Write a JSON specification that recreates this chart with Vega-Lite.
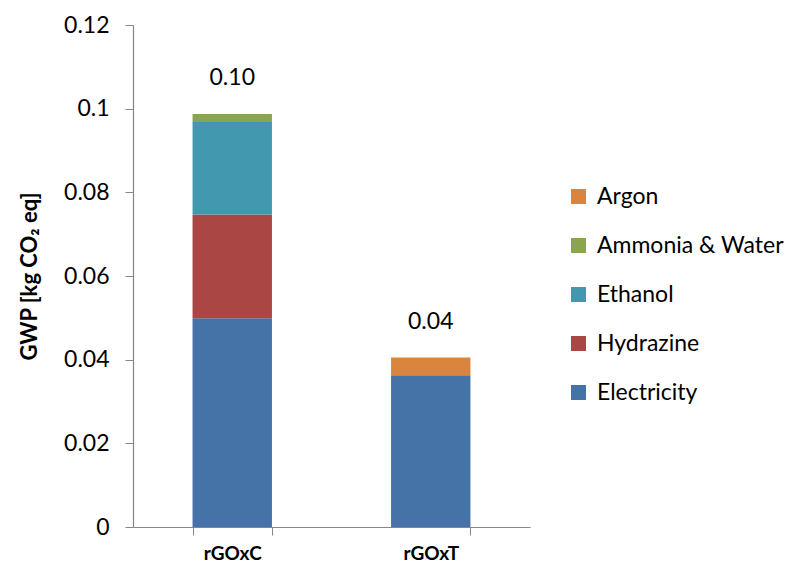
{
  "$schema": "https://vega.github.io/schema/vega-lite/v6.json",
  "width": 397,
  "height": 502,
  "autosize": {"type": "none"},
  "padding": {"left": 133, "top": 25, "right": 272, "bottom": 41},
  "background": "white",
  "config": {
    "view": {"stroke": null},
    "font": "Lato",
    "axis": {"labelFont": "Lato", "titleFont": "Lato"}
  },
  "data": {
    "values": [
      {"sample": "rGOxC", "source": "Electricity", "value": 0.0499, "ord": 1},
      {"sample": "rGOxC", "source": "Hydrazine", "value": 0.0248, "ord": 2},
      {"sample": "rGOxC", "source": "Ethanol", "value": 0.0221, "ord": 3},
      {"sample": "rGOxC", "source": "Ammonia & Water", "value": 0.0019, "ord": 4},
      {"sample": "rGOxT", "source": "Electricity", "value": 0.0363, "ord": 1},
      {"sample": "rGOxT", "source": "Argon", "value": 0.0042, "ord": 5}
    ]
  },
  "encoding": {
    "x": {
      "field": "sample",
      "type": "nominal",
      "scale": {"paddingInner": 0.6, "paddingOuter": 0.3},
      "axis": {
        "title": null,
        "labelAngle": 0,
        "labelFontWeight": "bold",
        "labelFontSize": 19,
        "labelColor": "#000000",
        "labelPadding": 9,
        "tickBand": "extent",
        "tickSize": 8,
        "tickColor": "#868686",
        "domainColor": "#868686",
        "domainWidth": 1.2
      }
    }
  },
  "layer": [
    {
      "mark": {"type": "bar"},
      "encoding": {
        "y": {
          "field": "value",
          "type": "quantitative",
          "stack": "zero",
          "scale": {"domain": [0, 0.12], "nice": false},
          "axis": {
            "title": "GWP [kg CO₂ eq]",
            "titleFontSize": 22,
            "titleFontWeight": "bold",
            "titleColor": "#000000",
            "titlePadding": 22,
            "values": [0, 0.02, 0.04, 0.06, 0.08, 0.1, 0.12],
            "labelExpr": "datum.value == 0 ? '0' : format(datum.value, '.2~f')",
            "labelFontSize": 23,
            "labelColor": "#000000",
            "labelPadding": 16,
            "tickSize": 8,
            "tickColor": "#868686",
            "domainColor": "#868686",
            "domainWidth": 1.2,
            "grid": false
          }
        },
        "color": {
          "field": "source",
          "type": "nominal",
          "scale": {
            "domain": ["Argon", "Ammonia & Water", "Ethanol", "Hydrazine", "Electricity"],
            "range": ["#DB843D", "#89A54E", "#4198AF", "#AA4643", "#4572A7"]
          },
          "legend": {
            "title": null,
            "orient": "none",
            "legendX": 434,
            "legendY": 160,
            "symbolType": "square",
            "symbolSize": 225,
            "symbolStrokeWidth": 0,
            "labelFontSize": 23,
            "labelColor": "#000000",
            "labelOffset": 7,
            "rowPadding": 25,
            "labelLimit": 300
          }
        },
        "order": {"field": "ord", "type": "quantitative"}
      }
    },
    {
      "mark": {"type": "text", "baseline": "bottom", "dy": -24, "fontSize": 23, "color": "#000000"},
      "encoding": {
        "y": {"aggregate": "sum", "field": "value", "type": "quantitative"},
        "text": {"aggregate": "sum", "field": "value", "type": "quantitative", "format": ".2f"}
      }
    }
  ]
}
